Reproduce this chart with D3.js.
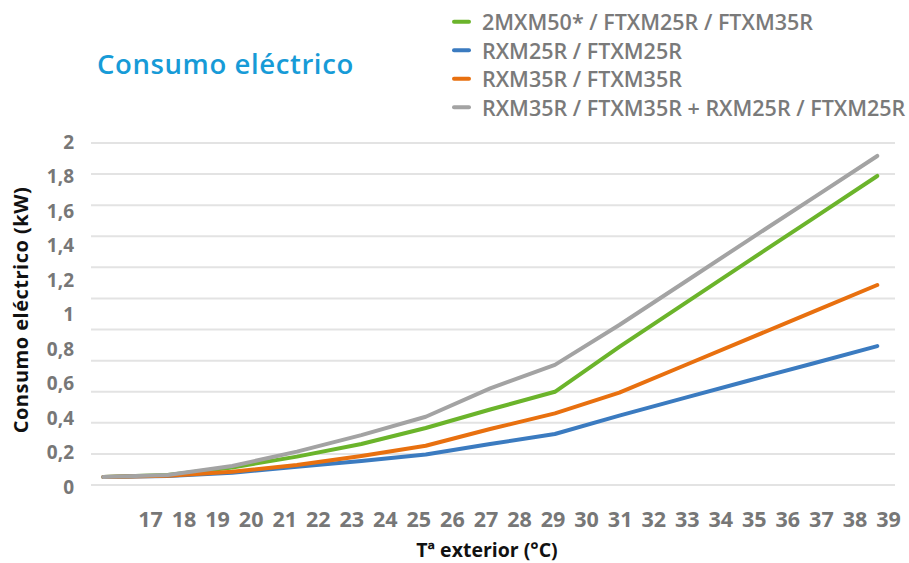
<!DOCTYPE html>
<html>
<head>
<meta charset="utf-8">
<script src="https://cdn.jsdelivr.net/npm/d3@7"></script>
<style>
  html, body { margin: 0; padding: 0; background: #fff; }
  svg { display: block; font-family: "Open Sans", "Noto Sans", sans-serif; }
</style>
</head>
<body>
<svg id="chart" width="909" height="563"></svg>
<script>
// ---- data ----
const temps = [15.61, 17.53, 19.45, 21.38, 23.30, 25.22, 27.14, 29.07, 30.99, 32.91, 34.83, 36.76, 38.68];
const seriesNames = [
  "2MXM50* / FTXM25R / FTXM35R",
  "RXM25R / FTXM25R",
  "RXM35R / FTXM35R",
  "RXM35R / FTXM35R + RXM25R / FTXM25R"
];
const green = [0.054, 0.066, 0.109, 0.172, 0.245, 0.338, 0.445, 0.548, 0.808, 1.056, 1.304, 1.552, 1.799];
const blue  = [0.054, 0.060, 0.079, 0.114, 0.147, 0.184, 0.245, 0.303, 0.410, 0.511, 0.612, 0.712, 0.813];
const orange= [0.054, 0.061, 0.085, 0.123, 0.176, 0.235, 0.332, 0.423, 0.543, 0.699, 0.855, 1.011, 1.167];
const gray  = [0.054, 0.066, 0.118, 0.201, 0.297, 0.403, 0.568, 0.704, 0.935, 1.180, 1.426, 1.671, 1.915];
const seriesValues = [green, blue, orange, gray];
const seriesColors = ["#6bb42b", "#3b7bc0", "#e8700f", "#a3a3a3"];
const xTicks = [17,18,19,20,21,22,23,24,25,26,27,28,29,30,31,32,33,34,35,36,37,38,39];
const yTicks = [0, 0.2, 0.4, 0.6, 0.8, 1, 1.2, 1.4, 1.6, 1.8, 2];
const gridCount = 11;
const title = "Consumo eléctrico";
const yTitle = "Consumo eléctrico (kW)";
const xTitle = "Tª exterior (°C)";

// ---- drawing ----
const svg = d3.select("#chart");
const x = d3.scaleLinear().domain([17, 39]).range([150, 888]);
const y = d3.scaleLinear().domain([0, 2]).range([486.3, 141.3]);
const grid = d3.scaleLinear().domain([0, gridCount]).range([485, 143]);

// gridlines
svg.append("g").selectAll("line")
  .data(d3.range(0, gridCount + 1))
  .join("line")
  .attr("x1", 91).attr("x2", 895)
  .attr("y1", d => grid(d)).attr("y2", d => grid(d))
  .attr("stroke", "#e3e3e3").attr("stroke-width", 2);

// lines
const line = d3.line()
  .x((d, i) => x(temps[i]))
  .y(d => y(d))
  .curve(d3.curveLinear);

svg.append("g").selectAll("path")
  .data(seriesValues)
  .join("path")
  .attr("d", d => line(d))
  .attr("fill", "none")
  .attr("stroke", (d, i) => seriesColors[i])
  .attr("stroke-width", 4)
  .attr("stroke-linecap", "round")
  .attr("stroke-linejoin", "round");

// y axis labels
const yAxis = svg.append("g")
  .attr("transform", "translate(74,0)")
  .call(d3.axisLeft(y).tickValues(yTicks).tickSize(0).tickPadding(0)
    .tickFormat(d => String(d).replace(".", ",")));
yAxis.select(".domain").remove();
yAxis.selectAll("text")
  .attr("fill", "#777777")
  .attr("font-size", 19)
  .attr("font-weight", 700)
  .attr("dy", "0.36em")
  .attr("font-family", "'Open Sans', sans-serif");

// x axis labels
const xAxis = svg.append("g")
  .attr("transform", "translate(0,519)")
  .call(d3.axisBottom(x).tickValues(xTicks).tickSize(0).tickPadding(0));
xAxis.select(".domain").remove();
xAxis.selectAll("text")
  .attr("y", 0)
  .attr("dy", "0.36em")
  .attr("fill", "#777777")
  .attr("font-size", 21.5)
  .attr("font-weight", 700)
  .attr("font-family", "'Open Sans', sans-serif");

// title
svg.append("text")
  .attr("x", 97).attr("y", 63)
  .attr("dominant-baseline", "central")
  .attr("fill", "#179bd7")
  .attr("font-size", 27.5)
  .attr("letter-spacing", 0.6)
  .attr("font-weight", 600)
  .text(title);

// axis titles
svg.append("text")
  .attr("transform", "translate(20,310) rotate(-90)")
  .attr("text-anchor", "middle")
  .attr("dominant-baseline", "central")
  .attr("fill", "#111")
  .attr("font-size", 20)
  .attr("letter-spacing", 0.5)
  .attr("font-weight", 700)
  .text(yTitle);

svg.append("text")
  .attr("x", 487).attr("y", 557)
  .attr("text-anchor", "middle")
  .attr("fill", "#111")
  .attr("font-size", 19.5)
  .attr("font-weight", 700)
  .text(xTitle);

// legend
const legendY = d3.scalePoint().domain(seriesNames).range([21.7, 107.3]);
const lg = svg.append("g").selectAll("g")
  .data(seriesNames)
  .join("g")
  .attr("transform", d => `translate(0,${legendY(d)})`);
lg.append("line")
  .attr("x1", 454).attr("x2", 469)
  .attr("stroke", (d, i) => seriesColors[i])
  .attr("stroke-width", 4)
  .attr("stroke-linecap", "round");
lg.append("text")
  .attr("x", 482)
  .attr("dominant-baseline", "central")
  .attr("fill", "#7a7a7a")
  .attr("font-size", 21.5)
  .attr("font-weight", 600)
  .text(d => d);
</script>
</body>
</html>
